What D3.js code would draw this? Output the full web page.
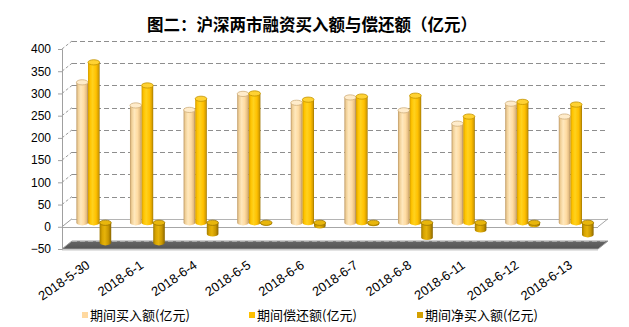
<!DOCTYPE html>
<html>
<head>
<meta charset="utf-8">
<script src="https://cdn.jsdelivr.net/npm/d3@7/dist/d3.min.js"></script>
<style>
  html, body { margin: 0; padding: 0; background: #fff; }
  svg { display: block; }
</style>
</head>
<body>
<svg id="chart" width="629" height="327"></svg>
<script>
// Margin financing: daily buy, repayment and net buy (100 million yuan)
const categories = ["2018-5-30", "2018-6-1", "2018-6-4", "2018-6-5", "2018-6-6",
                    "2018-6-7", "2018-6-8", "2018-6-11", "2018-6-12", "2018-6-13"];
const buyValues   = [316, 264, 254, 290, 270, 282, 253, 223, 268, 239];
const repayValues = [361, 309, 279, 291, 277, 284, 286, 239, 272, 266];
const netValues   = [-45, -45, -25, -1, -7, -2, -33, -16, -4, -27];
const seriesNames = ["期间买入额(亿元)", "期间偿还额(亿元)", "期间净买入额(亿元)"];
const yTicks = [-50, 0, 50, 100, 150, 200, 250, 300, 350, 400];
const titleText = "图二：沪深两市融资买入额与偿还额（亿元）";

const svg = d3.select("#chart");

// oblique 3D frame: front plane, back wall shifted by depth
const depthX = 10, depthY = -8;
const frontLeft = 62, frontRight = 598;

const y = d3.scaleLinear().domain([-50, 400]).range([249, 49]);
const yBack = v => y(v) + depthY;
const yMid = v => y(v) + depthY / 2;

const x0 = d3.scaleBand().domain(categories).range([frontLeft, frontRight])
  .paddingInner(0.35).paddingOuter(0.175);
const x1 = d3.scaleBand().domain(seriesNames).range([0, x0.bandwidth()]);

const series = [
  { name: seriesNames[0], values: buyValues, id: "buy" },
  { name: seriesNames[1], values: repayValues, id: "repay" },
  { name: seriesNames[2], values: netValues, id: "net" }
];

// cylinder shading
const defs = svg.append("defs");
const shades = {
  buy:   { stops: [[0, "#bf9a66"], [0.15, "#f0cf96"], [0.38, "#ffe8bd"], [0.65, "#ffdca3"], [0.88, "#e3bb80"], [1, "#a9875a"]],
           top: "#ffeccb", topStroke: "#cfae7c", legend: "#ffd9a0" },
  repay: { stops: [[0, "#d49c00"], [0.18, "#ffc400"], [0.4, "#ffd21e"], [0.7, "#ffc000"], [0.9, "#d69e00"], [1, "#9c7400"]],
           top: "#ffd233", topStroke: "#c39300", legend: "#ffc000" },
  net:   { stops: [[0, "#a37c00"], [0.22, "#d9a500"], [0.45, "#e6b30a"], [0.75, "#c99700"], [1, "#8a6600"]],
           top: "#e8b60c", topStroke: "#9c7500", legend: "#d4a000" }
};
Object.entries(shades).forEach(([id, s]) => {
  const g = defs.append("linearGradient").attr("id", "grad-" + id)
    .attr("x1", "0%").attr("x2", "100%").attr("y1", "0%").attr("y2", "0%");
  s.stops.forEach(([o, c]) => g.append("stop").attr("offset", o).attr("stop-color", c));
});
const floorGrad = defs.append("linearGradient").attr("id", "grad-floor")
  .attr("x1", "0%").attr("x2", "0%").attr("y1", "0%").attr("y2", "100%");
floorGrad.append("stop").attr("offset", 0).attr("stop-color", "#666");
floorGrad.append("stop").attr("offset", 1).attr("stop-color", "#545454");

// title
svg.append("text")
  .attr("x", 312).attr("y", 31)
  .attr("text-anchor", "middle")
  .attr("font-family", "'Noto Sans CJK SC', sans-serif")
  .attr("font-weight", "bold")
  .attr("font-size", 16.5)
  .attr("fill", "#000")
  .text(titleText);

// floor at the axis minimum
const fl = y(-50);
svg.append("path")
  .attr("d", `M${frontLeft},${fl} L${frontLeft + depthX},${fl + depthY} L${frontRight + depthX},${fl + depthY} L${frontRight},${fl} Z`)
  .attr("fill", "url(#grad-floor)")
  .attr("stroke", "#9a9a9a").attr("stroke-width", 1);
svg.append("line")
  .attr("x1", frontLeft).attr("x2", frontRight)
  .attr("y1", fl + 1).attr("y2", fl + 1)
  .attr("stroke", "#c8c8c8").attr("stroke-width", 1.2);

// back wall gridlines
const grid = svg.append("g");
yTicks.forEach(v => {
  const yy = Math.round(yBack(v)) + 0.5;
  grid.append("line")
    .attr("x1", frontLeft + depthX).attr("x2", frontRight + depthX)
    .attr("y1", yy).attr("y2", yy)
    .attr("stroke", v === 0 ? "#b4b4b4" : (v === -50 ? "#a8a8a8" : "#8e8e8e"))
    .attr("stroke-width", 1)
    .attr("stroke-dasharray", v === 0 ? null : "5,3");
  // side wall diagonals
  if (v !== -50) {
    grid.append("line")
      .attr("x1", frontLeft).attr("y1", y(v))
      .attr("x2", frontLeft + depthX).attr("y2", yBack(v))
      .attr("stroke", "#9a9a9a").attr("stroke-width", 1)
      .attr("stroke-dasharray", v === 0 ? null : "3,2");
  }
});

// zero plane, front edge
svg.append("line")
  .attr("x1", frontLeft).attr("x2", frontRight)
  .attr("y1", Math.round(y(0)) + 0.5).attr("y2", Math.round(y(0)) + 0.5)
  .attr("stroke", "#a6a6a6").attr("stroke-width", 1);
svg.append("line")
  .attr("x1", frontRight).attr("y1", y(0))
  .attr("x2", frontRight + depthX).attr("y2", yBack(0))
  .attr("stroke", "#a6a6a6").attr("stroke-width", 1);

// value axis
const axis = svg.append("g").attr("transform", `translate(${frontLeft},0)`)
  .call(d3.axisLeft(y).tickValues(yTicks).tickSize(4).tickPadding(7).tickFormat(d3.format("d")));
axis.select(".domain").attr("stroke", "#a0a0a0");
axis.selectAll(".tick line").attr("stroke", "#a0a0a0");
axis.selectAll(".tick text")
  .attr("font-family", "'Liberation Sans', Arial, sans-serif")
  .attr("font-size", 12)
  .attr("fill", "#000");

// cylinders
const ry = 2.6;
const bars = svg.append("g");
categories.forEach((c, i) => {
  series.forEach(s => {
    const v = s.values[i];
    const w = x1.bandwidth();
    const xl = x0(c) + x1(s.name) + depthX / 2;
    const xr = xl + w;
    const rx = w / 2;
    const yTop = yMid(Math.max(v, 0));
    const yBot = yMid(Math.min(v, 0));
    const sh = shades[s.id];
    const g = bars.append("g");
    g.append("path")
      .attr("d", `M${xl},${yTop} L${xl},${yBot} A${rx},${ry} 0 0 0 ${xr},${yBot} L${xr},${yTop} Z`)
      .attr("fill", `url(#grad-${s.id})`);
    g.append("ellipse")
      .attr("cx", xl + rx).attr("cy", yTop)
      .attr("rx", rx).attr("ry", ry)
      .attr("fill", sh.top)
      .attr("stroke", sh.topStroke).attr("stroke-width", 0.8);
  });
});

// category labels
const labels = svg.append("g");
categories.forEach(c => {
  const cx = x0(c) + x0.bandwidth() / 2 + 2;
  labels.append("text")
    .attr("transform", `translate(${cx},267) rotate(-35)`)
    .attr("text-anchor", "end")
    .attr("font-family", "'Liberation Sans', Arial, sans-serif")
    .attr("font-size", 13)
    .attr("fill", "#000")
    .text(c);
});

// legend
const legendX = [82, 249, 417];
const legend = svg.append("g");
series.forEach((s, i) => {
  legend.append("rect")
    .attr("x", legendX[i]).attr("y", 312)
    .attr("width", 6).attr("height", 6)
    .attr("fill", shades[s.id].legend);
  legend.append("text")
    .attr("x", legendX[i] + 8).attr("y", 319.5)
    .attr("font-family", "'Noto Sans CJK SC', sans-serif")
    .attr("font-size", 13)
    .attr("fill", "#000")
    .text(s.name);
});
</script>
</body>
</html>
